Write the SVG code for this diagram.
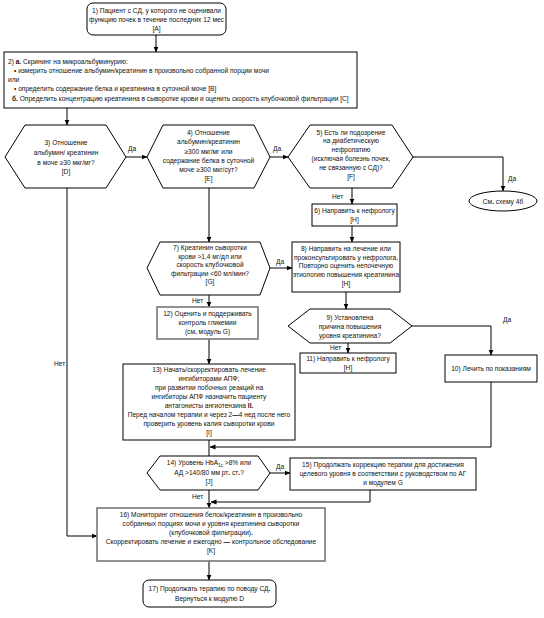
<svg xmlns="http://www.w3.org/2000/svg" width="544" height="618" viewBox="0 0 544 618">
<defs>
<marker id="ah" markerWidth="6" markerHeight="6" refX="5.5" refY="3" orient="auto" markerUnits="userSpaceOnUse">
<path d="M0,0.5 L6,3 L0,5.5 Z" fill="#000"/>
</marker>
<style>
text{font-family:"Liberation Sans",Arial,sans-serif;font-size:6.6px;fill:#111}
.c{text-anchor:middle}
.b{fill:#fff;stroke:#000;stroke-width:1}
.g{fill:#fff;stroke:#777;stroke-width:1.6}
.ln{fill:none;stroke:#000;stroke-width:1}
.a{fill:none;stroke:#000;stroke-width:1;marker-end:url(#ah)}
.bd{font-weight:bold}
</style>
</defs>
<rect width="544" height="618" fill="#fff"/>

<g id="connectors">
<path class="a" d="M156,35 V52"/>
<path class="a" d="M67,108 V125"/>
<path class="a" d="M126,157 H147"/>
<text x="128" y="151">Да</text>
<path class="a" d="M270,157 H288"/>
<text x="273" y="151">Да</text>
<path class="a" d="M413,157 H503 V191"/>
<text x="508" y="181">Да</text>
<path class="a" d="M352,188 V204"/>
<text x="332" y="199">Нет</text>
<path class="a" d="M352,226 V242"/>
<path class="a" d="M209,188 V242"/>
<path class="a" d="M270,268 H292"/>
<text x="276" y="264">Да</text>
<path class="a" d="M209,295 V307"/>
<text x="192" y="303">Нет</text>
<path class="a" d="M209,339 V364"/>
<path class="a" d="M346,292 V309"/>
<path class="a" d="M412,326 H491 V355"/>
<text x="503" y="322">Да</text>
<path class="a" d="M348,343 V353"/>
<text x="330" y="350">Нет</text>
<path class="ln" d="M209,440 V456"/>
<path class="a" d="M491,382 V447 H210"/>
<path class="a" d="M270,473 H290"/>
<text x="276" y="469">Да</text>
<path class="a" d="M209,490 V508"/>
<path class="a" d="M370,490 V502 H211"/>
<text x="192" y="499">Нет</text>
<path class="a" d="M67,188 V536 H97"/>
<text x="54" y="366">Нет</text>
<path class="a" d="M209,561 V580"/>
</g>

<g id="n1">
<rect class="b" x="87" y="3" width="139" height="32" rx="6"/>
<text class="c" x="156.5" y="13">1) Пациент с СД, у которого не оценивали</text>
<text class="c" x="156.5" y="22">функцию почек в течение последних 12 мес</text>
<text class="c" x="156.5" y="31">[A]</text>
</g>

<g id="n2">
<rect class="b" x="4" y="52" width="353" height="56"/>
<text x="8" y="64">2) <tspan class="bd">а.</tspan> Скрининг на микроальбуминурию:</text>
<text x="14" y="73">• измерить отношение альбумин/креатинин в произвольно собранной порции мочи</text>
<text x="8" y="82">или</text>
<text x="14" y="91">• определить содержание белка и креатинина в суточной моче [B]</text>
<text x="12" y="101"><tspan class="bd">б.</tspan> Определить концентрацию креатинина в сыворотке крови и оценить скорость клубочковой фильтрации [C]</text>
</g>

<g id="n3">
<polygon class="b" points="5,157 25,125 106,125 126,157 106,188 25,188"/>
<text class="c" x="66" y="145">3) Отношение</text>
<text class="c" x="66" y="155">альбумин/ креатинин</text>
<text class="c" x="66" y="165">в моче ≥30 мкг/мг?</text>
<text class="c" x="66" y="174">[D]</text>
</g>

<g id="n4">
<polygon class="b" points="147,157 163,125 254,125 270,157 254,188 163,188"/>
<text class="c" x="208.5" y="135">4) Отношение</text>
<text class="c" x="208.5" y="144">альбумин/креатинин</text>
<text class="c" x="208.5" y="154">≥300 мкг/мг или</text>
<text class="c" x="208.5" y="163">содержание белка в суточной</text>
<text class="c" x="208.5" y="172">моче ≥300 мкг/сут?</text>
<text class="c" x="208.5" y="181">[E]</text>
</g>

<g id="n5">
<polygon class="b" points="288,157 310,125 392,125 413,157 392,188 310,188"/>
<text class="c" x="351" y="135">5) Есть ли подозрение</text>
<text class="c" x="351" y="143">на диабетическую</text>
<text class="c" x="351" y="152">нефропатию</text>
<text class="c" x="351" y="161">(исключая болезнь почек,</text>
<text class="c" x="351" y="170">не связанную с СД)?</text>
<text class="c" x="351" y="179">[F]</text>
</g>

<g id="n4b">
<ellipse class="b" cx="503" cy="201" rx="34" ry="10"/>
<text class="c" x="503" y="204">См<tspan class="bd">.</tspan> схему 4б</text>
</g>

<g id="n6">
<rect class="b" x="312" y="204" width="85" height="22"/>
<text class="c" x="354.5" y="213">6) Направить к нефрологу</text>
<text class="c" x="354.5" y="222">[H]</text>
</g>

<g id="n7">
<polygon class="b" points="147,268 160,242 260,242 270,268 260,295 160,295"/>
<text class="c" x="210" y="250">7) Креатинин сыворотки</text>
<text class="c" x="210" y="259">крови &gt;1,4 мг/дл или</text>
<text class="c" x="210" y="267">скорость клубочковой</text>
<text class="c" x="210" y="276">фильтрации &lt;60 мл/мин?</text>
<text class="c" x="210" y="284">[G]</text>
</g>

<g id="n8">
<rect class="b" x="292" y="242" width="108" height="50"/>
<text class="c" x="346" y="251">8) Направить на лечение или</text>
<text class="c" x="346" y="260">проконсультировать у нефролога,</text>
<text class="c" x="346" y="268">Повторно оценить непочечную</text>
<text class="c" x="346" y="277">этиологию повышения креатинина</text>
<text class="c" x="346" y="286">[H]</text>
</g>

<g id="n9">
<polygon class="b" points="288,326 310,309 390,309 412,326 390,343 310,343"/>
<text class="c" x="350" y="320">9) Установлена</text>
<text class="c" x="350" y="329">причина повышения</text>
<text class="c" x="350" y="338">уровня креатинина?</text>
</g>

<g id="n10">
<rect class="b" x="445" y="355" width="92" height="27"/>
<text class="c" x="491" y="371">10) Лечить по показаниям</text>
</g>

<g id="n11">
<rect class="b" x="300" y="353" width="96" height="20"/>
<text class="c" x="348" y="361">11) Направить к нефрологу</text>
<text class="c" x="348" y="370">[H]</text>
</g>

<g id="n12">
<rect class="g" x="157" y="307" width="101" height="32"/>
<text class="c" x="207.5" y="316">12) Оценить и поддерживать</text>
<text class="c" x="207.5" y="325">контроль гликемии</text>
<text class="c" x="207.5" y="334">(см<tspan class="bd">.</tspan> модуль G)</text>
</g>

<g id="n13">
<rect class="b" x="123" y="364" width="172" height="76"/>
<text class="c" x="209" y="372">13) Начать/скорректировать лечение</text>
<text class="c" x="209" y="381">ингибиторами АПФ;</text>
<text class="c" x="209" y="390">при развитии побочных реакций на</text>
<text class="c" x="209" y="399">ингибиторы АПФ назначить пациенту</text>
<text class="c" x="209" y="408">антагонисты ангиотензина <tspan class="bd">II.</tspan></text>
<text class="c" x="209" y="417">Перед началом терапии и через 2<tspan class="bd">—</tspan>4 нед после него</text>
<text class="c" x="209" y="426">проверить уровень калия сыворотки крови</text>
<text class="c" x="209" y="435">[I]</text>
</g>

<g id="n14">
<polygon class="b" points="147,473 160,456 258,456 270,473 258,490 160,490"/>
<text class="c" x="209" y="465">14) Уровень HbA<tspan font-size="4.5" dy="1.5">1c</tspan><tspan dy="-1.5"> &gt;8% или</tspan></text>
<text class="c" x="209" y="475">АД &gt;140/80 мм рт<tspan class="bd">.</tspan> ст<tspan class="bd">.</tspan>?</text>
<text class="c" x="209" y="484">[J]</text>
</g>

<g id="n15">
<rect class="b" x="290" y="458" width="186" height="32"/>
<text class="c" x="383" y="467">15) Продолжать коррекцию терапии для достижения</text>
<text class="c" x="383" y="476">целевого уровня в соответствии с руководством по АГ</text>
<text class="c" x="383" y="485">и модулем G</text>
</g>

<g id="n16">
<rect class="g" x="97" y="508" width="228" height="53"/>
<text class="c" x="211" y="517">16) Мониторинг отношения белок/креатинин в произвольно</text>
<text class="c" x="211" y="526">собранных порциях мочи и уровня креатинина сыворотки</text>
<text class="c" x="211" y="535">(клубочковой фильтрации)<tspan class="bd">.</tspan></text>
<text class="c" x="211" y="544">Скорректировать лечение и ежегодно <tspan class="bd">—</tspan> контрольное обследование</text>
<text class="c" x="211" y="553">[K]</text>
</g>

<g id="n17">
<rect class="b" x="143" y="580" width="133" height="27" rx="6"/>
<text class="c" x="209.5" y="591">17) Продолжать терапию по поводу СД<tspan class="bd">.</tspan></text>
<text class="c" x="209.5" y="601">Вернуться к модулю D</text>
</g>
</svg>
